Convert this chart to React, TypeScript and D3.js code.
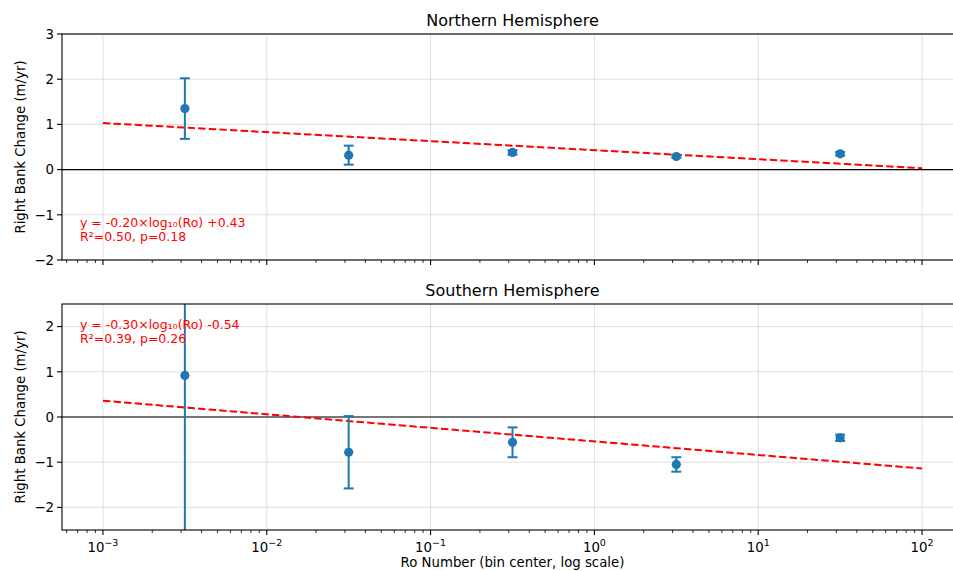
import React from 'react';
import * as d3 from 'd3';

const width = 953;
const height = 571;
const blue = '#1f77b4';
const red = '#ff0000';
const font = 'DejaVu Sans, sans-serif';
const left = 62;
const right = 963;

// bin centers (Ro) and per-panel means with error half-widths
const binCenters = [10 ** -2.5, 10 ** -1.5, 10 ** -0.5, 10 ** 0.5, 10 ** 1.5];
const northMean = [1.35, 0.32, 0.38, 0.29, 0.35];
const northErr = [0.67, 0.21, 0.05, 0.03, 0.04];
const southMean = [0.92, -0.78, -0.56, -1.05, -0.46];
const southErr = [4.2, 0.8, 0.33, 0.16, 0.07];
const fitRange = [1e-3, 1e2];
const northFit = { slope: -0.2, intercept: 0.43 };
const southFit = { slope: -0.3, intercept: -0.54 };
const northTicks = [-2, -1, 0, 1, 2, 3];
const southTicks = [-2, -1, 0, 1, 2];
const xMajor = [-3, -2, -1, 0, 1, 2];

const x = d3.scaleLog().domain([10 ** -3.25, 10 ** 2.25]).range([left, right]);

const minorTicks: number[] = [];
for (let e = -4; e <= 2; e++) {
  for (let k = 2; k <= 9; k++) {
    const v = k * 10 ** e;
    if (v >= x.domain()[0] && v <= x.domain()[1]) minorTicks.push(v);
  }
}

const fmt = (v: number) => (v < 0 ? '\u2212' + Math.abs(v) : String(v));
const sup = (e: number) => (e < 0 ? '\u2212' + Math.abs(e) : String(e));

function Panel({ top, bottom, yDomain, yTicks, title, mean, err, fit, labelLines, labelY, showX }) {
  const y = d3.scaleLinear().domain(yDomain).range([bottom, top]);
  const line = d3
    .line<number>()
    .x(d => x(d))
    .y(d => y(fit.slope * Math.log10(d) + fit.intercept));
  const clipId = 'clip' + top;
  return (
    <g>
      <defs>
        <clipPath id={clipId}>
          <rect x={left} y={top} width={right - left} height={bottom - top} />
        </clipPath>
      </defs>
      {/* grid */}
      {xMajor.map(e => (
        <line key={'gx' + e} x1={x(10 ** e)} x2={x(10 ** e)} y1={top} y2={bottom}
          stroke="#b0b0b0" strokeOpacity={0.4} strokeWidth={1} />
      ))}
      {yTicks.map(t => (
        <line key={'gy' + t} x1={left} x2={right} y1={y(t)} y2={y(t)}
          stroke="#b0b0b0" strokeOpacity={0.4} strokeWidth={1} />
      ))}
      <line x1={left} x2={right} y1={y(0)} y2={y(0)} stroke="#000" strokeWidth={1.1} />
      <g clipPath={`url(#${clipId})`}>
        <path d={line(fitRange) ?? ''} fill="none" stroke={red} strokeWidth={2}
          strokeDasharray="7.4,3.2" />
        {binCenters.map((c, i) => (
          <g key={i}>
            <line x1={x(c)} x2={x(c)} y1={y(mean[i] - err[i])} y2={y(mean[i] + err[i])}
              stroke={blue} strokeWidth={2} />
            <line x1={x(c) - 5} x2={x(c) + 5} y1={y(mean[i] - err[i])} y2={y(mean[i] - err[i])}
              stroke={blue} strokeWidth={2} />
            <line x1={x(c) - 5} x2={x(c) + 5} y1={y(mean[i] + err[i])} y2={y(mean[i] + err[i])}
              stroke={blue} strokeWidth={2} />
            <circle cx={x(c)} cy={y(mean[i])} r={4.6} fill={blue} />
          </g>
        ))}
      </g>
      {/* frame */}
      <rect x={left} y={top} width={right - left} height={bottom - top} fill="none"
        stroke="#000" strokeWidth={1.1} />
      {/* y ticks */}
      {yTicks.map(t => (
        <g key={'yt' + t}>
          <line x1={left - 5} x2={left} y1={y(t)} y2={y(t)} stroke="#000" strokeWidth={1.1} />
          <text x={left - 8} y={y(t)} dy="0.36em" textAnchor="end" fontSize={13.3}
            fontFamily={font}>{fmt(t)}</text>
        </g>
      ))}
      {/* x ticks */}
      {xMajor.map(e => (
        <g key={'xt' + e}>
          <line x1={x(10 ** e)} x2={x(10 ** e)} y1={bottom} y2={bottom + 5} stroke="#000"
            strokeWidth={1.1} />
          {showX && (
            <text x={x(10 ** e)} y={bottom + 22} textAnchor="middle" fontFamily={font}
              fontSize={13.3}>
              10<tspan fontSize={9.5} dy={-6}>{sup(e)}</tspan>
            </text>
          )}
        </g>
      ))}
      {minorTicks.map(v => (
        <line key={'mt' + v} x1={x(v)} x2={x(v)} y1={bottom} y2={bottom + 3} stroke="#000"
          strokeWidth={0.8} />
      ))}
      <text x={(left + right) / 2} y={top - 8} textAnchor="middle" fontSize={16}
        fontFamily={font}>{title}</text>
      <text transform={`translate(25,${(top + bottom) / 2}) rotate(-90)`} textAnchor="middle"
        fontSize={13.3} fontFamily={font}>Right Bank Change (m/yr)</text>
      {labelLines.map((s, i) => (
        <text key={i} x={80} y={labelY + i * 13.5} fontSize={12.5} fontFamily={font}
          fill={red}>{s}</text>
      ))}
    </g>
  );
}

export default function App() {
  return (
    <svg width={width} height={height} style={{ position: 'absolute', left: 0, top: 0 }}>
      <rect width={width} height={height} fill="#fff" />
      <Panel top={34} bottom={260} yDomain={[-2, 3]} yTicks={northTicks}
        title="Northern Hemisphere" mean={northMean} err={northErr} fit={northFit}
        labelLines={['y = -0.20×log₁₀(Ro) +0.43', 'R²=0.50, p=0.18']} labelY={227}
        showX={false} />
      <Panel top={304} bottom={530} yDomain={[-2.5, 2.5]} yTicks={southTicks}
        title="Southern Hemisphere" mean={southMean} err={southErr} fit={southFit}
        labelLines={['y = -0.30×log₁₀(Ro) -0.54', 'R²=0.39, p=0.26']} labelY={329}
        showX={true} />
      <text x={(left + right) / 2} y={567} textAnchor="middle" fontSize={13.3}
        fontFamily={font}>Ro Number (bin center, log scale)</text>
    </svg>
  );
}
